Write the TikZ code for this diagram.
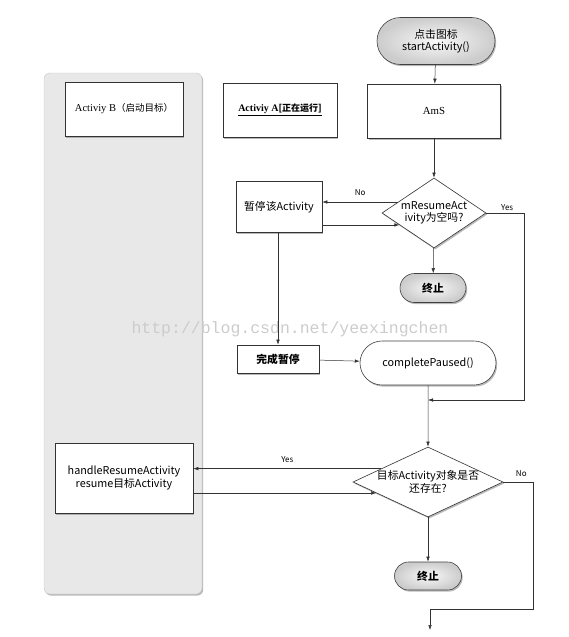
\documentclass[tikz,border=0pt]{standalone}
\usepackage{fontspec}
\setmainfont{Noto Sans CJK SC}
\newfontfamily\wmfont{Liberation Mono}
\newfontfamily\serf{Liberation Serif}
\newfontfamily\cjk{Noto Sans CJK SC}
\usetikzlibrary{shapes.geometric,shapes.misc,shadows,arrows.meta,calc}
\begin{document}
\begin{tikzpicture}[x=1pt,y=-1pt,
  every node/.style={font=\fontsize{10.8}{12.5}\selectfont, align=center},
  conn/.style={draw=black!80, line width=0.5pt},
  arr/.style={conn, -{Latex[length=5pt,width=3.5pt]}},
  shad/.style={drop shadow={shadow xshift=1.2pt, shadow yshift=-1.6pt, opacity=0.55}},
  boxnode/.style={draw=black!80, line width=0.6pt, fill=white, shad, inner sep=2pt},
  term/.style={rounded rectangle, draw=black!75, line width=0.6pt, shading=radial, inner color=gray!5, outer color=gray!40, shad, inner sep=2pt},
  dec/.style={diamond, draw=black!80, line width=0.6pt, fill=white, shad, inner sep=0pt},
  lbl/.style={font=\fontsize{8}{9}\selectfont}
]
\useasboundingbox (0,0) rectangle (569,637);
% swimlane
\node[draw=gray!45, fill=gray!18, rounded corners=6pt, minimum width=158pt, minimum height=521pt, shad, inner sep=0pt] (lane) at (123,333.5) {};

\node[term, minimum width=122pt, minimum height=47pt] (start) at (436,41) {点击图标\\startActivity()};
\node[boxnode, minimum width=118pt, minimum height=54pt] (actB) at (124,109) {\serf\fontsize{10.5}{12}\selectfont Activiy B\cjk\fontsize{9.5}{12}\selectfont（启动目标）};
\node[boxnode, minimum width=114pt, minimum height=54pt] (actA) at (280,110) {\underline{\serf\bfseries\fontsize{10}{12}\selectfont Activiy A\cjk\fontsize{9}{12}\selectfont[正在运行]}};
\node[boxnode, minimum width=133pt, minimum height=54pt] (ams) at (434,111) {\serf AmS};

\node[dec, minimum width=104pt, minimum height=70pt] (d1) at (434,213) {};
\node at (434,213) {mResumeAct\\ivity为空吗?};
\node[boxnode, minimum width=86pt, minimum height=51pt] (b1) at (279,207) {暂停该Activity};
\node[term, minimum width=70pt, minimum height=29pt] (t1) at (433,288) {\textbf{终止}};

\node[boxnode, minimum width=82pt, minimum height=28pt] (b2) at (278,359) {\textbf{完成暂停}};
\node[term, minimum width=140pt, minimum height=44pt, shading=axis, top color=white, bottom color=white] (cp) at (428,363) {completePaused()};

\node[dec, minimum width=150pt, minimum height=70pt] (d2) at (428,482) {};
\node at (428,482) {目标Activity对象是否\\还存在?};
\node[boxnode, minimum width=138pt, minimum height=70pt] (hb) at (124,478) {handleResumeActivity\\resume目标Activity};
\node[term, minimum width=71pt, minimum height=28pt] (t2) at (428,576) {\textbf{终止}};

% watermark
\node[font=\wmfont\fontsize{16.5}{18}\selectfont, text=gray!40, anchor=west] (wm) at (128,329) {http://blog.csdn.net/yeexingchen};

% connectors
\draw[arr] (start) -- (ams);
\draw[arr] (ams) -- (d1);
\draw[arr] (d1.163) -- (b1.east |- d1.163) node[lbl, midway, above=3pt] {No};
\draw[arr] (b1.east |- d1.199) -- (d1.199);
\draw[arr] (d1) -- (t1);
\coordinate (j) at (cp.south |- 0,400);
\draw[arr] (d1.east) -- ++(38,0) node[lbl, pos=0.55, above=-1pt] {Yes} |- (j);
\draw[arr] (b1.south -| b2.north) -- (b2.north);
\draw[arr] (b2) -- (cp);
\draw[arr] (cp) -- (d2);
\draw[arr] (d2.164) -- (hb.east |- d2.164) node[lbl, midway, above=2pt] {Yes};
\draw[arr] (hb.east |- d2.192) -- (d2.192);
\draw[arr] (d2) -- (t2);
\coordinate (endp) at (430,630);
\draw[arr] (d2.east) -- ++(30,0) node[lbl, pos=0.6, above=2pt] {No} |- (endp |- 0,609) -- (endp);
\end{tikzpicture}
\end{document}
